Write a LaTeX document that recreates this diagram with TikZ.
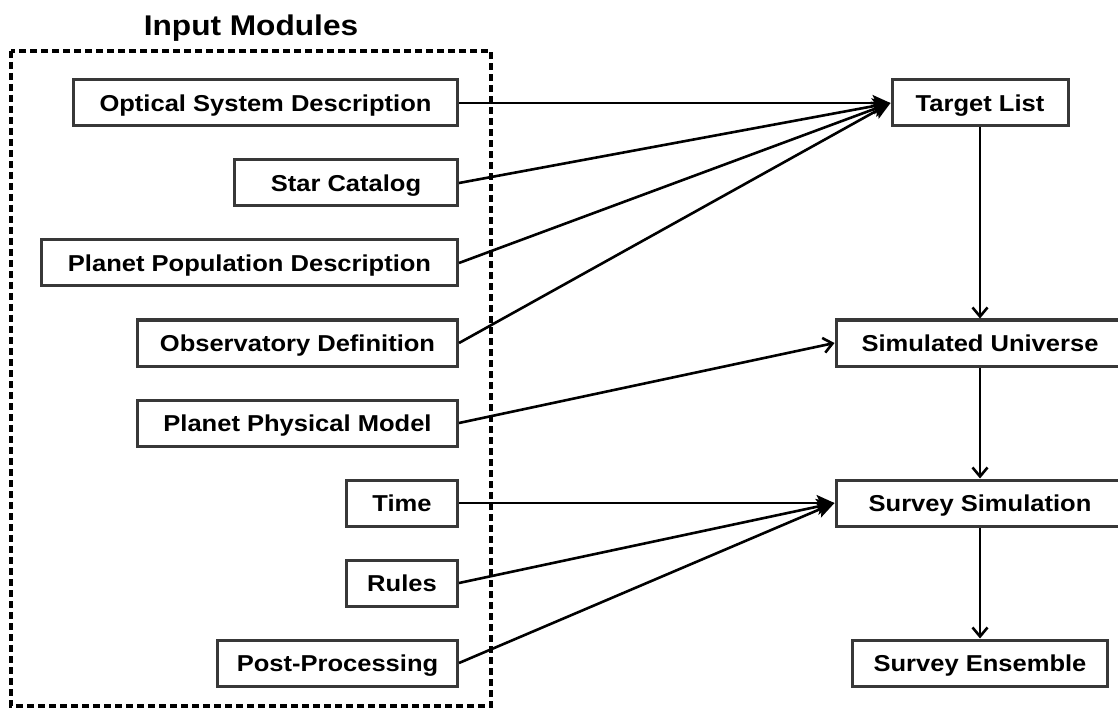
\documentclass[tikz,border=0pt]{standalone}
\usepackage{fontspec}
\setmainfont{Liberation Sans}[FakeStretch=1.11]
\usetikzlibrary{arrows.meta}
\definecolor{boxline}{HTML}{383838}
\begin{document}
\begin{tikzpicture}[x=1pt,y=-1pt,
  mbox/.style={draw=boxline, line width=3pt, fill=white, minimum height=46pt,
    inner sep=0pt, text height=16.5pt, text depth=-2.5pt,
    font=\fontsize{23}{26}\selectfont\bfseries},
  conn/.style={line width=2.6pt, black},
  filledtip/.style={conn, -{Stealth[length=18pt,width=16pt,inset=4pt]}},
  opentip/.style={conn, -{Straight Barb[length=9pt,width=15pt,line width=2.6pt]}}]
\useasboundingbox (0,0) rectangle (1118,708);
% title and dashed frame
\node[font=\fontsize{28.5}{32}\selectfont\bfseries] (title) at (251,28) {Input Modules};
\draw[line width=3.3pt, dash pattern=on 7pt off 4pt] (11,51) rectangle (491,706);
% left modules
\node[mbox, anchor=east, minimum width=384pt] (osd) at (459,103) {Optical System Description};
\node[mbox, anchor=east, minimum width=223pt] (sc)  at (459,183) {Star Catalog};
\node[mbox, anchor=east, minimum width=416pt] (ppd) at (459,263) {Planet Population Description};
\node[mbox, anchor=east, minimum width=320pt] (od)  at (459,343) {Observatory Definition};
\node[mbox, anchor=east, minimum width=320pt] (ppm) at (459,423) {Planet Physical Model};
\node[mbox, anchor=east, minimum width=111pt] (tm)  at (459,503) {Time};
\node[mbox, anchor=east, minimum width=111pt] (ru)  at (459,583) {Rules};
\node[mbox, anchor=east, minimum width=240pt] (pp)  at (459,663) {Post-Processing};
% right chain
\node[mbox, minimum width=176pt] (tl) at (980,103) {Target List};
\node[mbox, minimum width=288pt] (su) at (980,343) {Simulated Universe};
\node[mbox, minimum width=288pt] (ss) at (980,503) {Survey Simulation};
\node[mbox, minimum width=255pt] (se) at (980,663) {Survey Ensemble};
% connectors
\draw[filledtip] (osd.east) -- (tl.west);
\draw[filledtip] (sc.east) -- (tl.west);
\draw[filledtip] (ppd.east) -- (tl.west);
\draw[filledtip] (od.east) -- (tl.west);
\draw[opentip] (ppm.east) -- (su.west);
\draw[filledtip] (tm.east) -- (ss.west);
\draw[filledtip] (ru.east) -- (ss.west);
\draw[filledtip] (pp.east) -- (ss.west);
\draw[opentip] (tl.south) -- (su.north);
\draw[opentip] (su.south) -- (ss.north);
\draw[opentip] (ss.south) -- (se.north);
\end{tikzpicture}
\end{document}
